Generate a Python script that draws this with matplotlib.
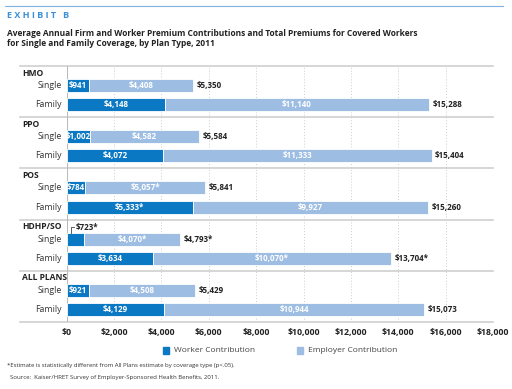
import matplotlib.pyplot as plt
from matplotlib.patches import Rectangle
from matplotlib.ticker import FuncFormatter
from matplotlib.transforms import blended_transform_factory

# data
plans = ['HMO', 'PPO', 'POS', 'HDHP/SO', 'ALL PLANS']
worker_single = [941, 1002, 784, 723, 921]
worker_family = [4148, 4072, 5333, 3634, 4129]
employer_single = [4408, 4582, 5057, 4070, 4508]
employer_family = [11140, 11333, 9927, 10070, 10944]
total_single = [5350, 5584, 5841, 4793, 5429]
total_family = [15288, 15404, 15260, 13704, 15073]
# labels (asterisk = statistically different from All Plans)
lab_ws = ['$941', '$1,002', '$784', '$723*', '$921']
lab_wf = ['$4,148', '$4,072', '$5,333*', '$3,634', '$4,129']
lab_es = ['$4,408', '$4,582', '$5,057*', '$4,070*', '$4,508']
lab_ef = ['$11,140', '$11,333', '$9,927', '$10,070*', '$10,944']
lab_ts = ['$5,350', '$5,584', '$5,841', '$4,793*', '$5,429']
lab_tf = ['$15,288', '$15,404', '$15,260', '$13,704*', '$15,073']

dark = '#0a78c2'
light = '#9dbde3'
plt.rcParams['font.family'] = ['Open Sans', 'DejaVu Sans']

fig = plt.figure(figsize=(5.12, 3.89), dpi=100)
ax = fig.add_axes([66.7 / 512, 1 - 322 / 389, 426.3 / 512, 256 / 389])
ax.set_xlim(0, 18000)
ax.set_ylim(5, 0)

h = 0.255
ys_single = [i + 0.38 for i in range(5)]
ys_family = [i + 0.755 for i in range(5)]
ax.barh(ys_single, worker_single, height=h, color=dark, edgecolor='white', lw=0.6, zorder=3)
ax.barh(ys_single, employer_single, left=worker_single, height=h, color=light,
        edgecolor='white', lw=0.6, zorder=3)
ax.barh(ys_family, worker_family, height=h, color=dark, edgecolor='white', lw=0.6, zorder=3)
ax.barh(ys_family, employer_family, left=worker_family, height=h, color=light,
        edgecolor='white', lw=0.6, zorder=3)

fs = 5.8
for i in range(5):
    ys, yf = ys_single[i], ys_family[i]
    if plans[i] == 'HDHP/SO':
        # small worker share: label above the bar with a leader line
        ly = i + 0.15
        ax.plot([worker_single[i] * 0.25, worker_single[i] * 0.25, worker_single[i] * 0.45],
                [ys - h / 2, ly, ly], color='#444444', lw=0.6, zorder=4)
        ax.text(worker_single[i] * 0.5, ly, lab_ws[i], ha='left', va='center',
                fontsize=fs, fontweight='bold', color='#222222')
    else:
        ax.text(worker_single[i] / 2, ys, lab_ws[i], ha='center', va='center',
                fontsize=fs, fontweight='bold', color='white', zorder=5)
    ax.text(worker_single[i] + employer_single[i] / 2, ys, lab_es[i], ha='center',
            va='center', fontsize=fs, fontweight='bold', color='white', zorder=5)
    ax.text(total_single[i] + 150, ys, lab_ts[i], ha='left', va='center',
            fontsize=fs, fontweight='bold', color='#222222')
    ax.text(worker_family[i] / 2, yf, lab_wf[i], ha='center', va='center',
            fontsize=fs, fontweight='bold', color='white', zorder=5)
    ax.text(worker_family[i] + employer_family[i] / 2, yf, lab_ef[i], ha='center',
            va='center', fontsize=fs, fontweight='bold', color='white', zorder=5)
    ax.text(total_family[i] + 150, yf, lab_tf[i], ha='left', va='center',
            fontsize=fs, fontweight='bold', color='#222222')

# category labels and separators
tr = blended_transform_factory(ax.transAxes, ax.transData)
xl = (20 - 66.7) / 426.3
for i in range(5):
    ax.text((22 - 66.7) / 426.3, i + 0.14, plans[i], transform=tr, ha='left',
            va='center', fontsize=6.1, fontweight='bold', color='#222222')
    ax.text(-0.012, ys_single[i], 'Single', transform=tr, ha='right', va='center',
            fontsize=6.3, color='#333333')
    ax.text(-0.012, ys_family[i], 'Family', transform=tr, ha='right', va='center',
            fontsize=6.3, color='#333333')
for y in range(6):
    ax.plot([xl, 1], [y, y], transform=tr, color='#cfcfcf', lw=1.2, clip_on=False, zorder=2)

for s in ax.spines.values():
    s.set_visible(False)
ax.axvline(0, color='#bbbbbb', lw=0.8, zorder=2)
ax.set_xticks(range(0, 18001, 2000))
ax.xaxis.set_major_formatter(FuncFormatter(lambda v, p: '${:,.0f}'.format(v)))
ax.tick_params(axis='x', length=0, pad=4, labelsize=6.3, labelcolor='#222222')
for t in ax.get_xticklabels():
    t.set_fontweight('bold')
ax.set_yticks([])
ax.grid(axis='x', color='#cccccc', linestyle=(0, (1, 2)), lw=0.7, zorder=0)

# header
fig.add_artist(plt.Line2D([5 / 512, 503 / 512], [1 - 6 / 389, 1 - 6 / 389], color='#7fb2e0', lw=0.8))
fig.text(7 / 512, 1 - 15 / 389, 'E X H I B I T   B', fontsize=6.5, fontweight='bold',
         color='#3a8fd8', va='center')
fig.text(7 / 512, 1 - 33 / 389, 'Average Annual Firm and Worker Premium Contributions and Total Premiums for Covered Workers',
         fontsize=6.05, fontweight='bold', color='#222222', va='center')
fig.text(7 / 512, 1 - 44 / 389, 'for Single and Family Coverage, by Plan Type, 2011',
         fontsize=6.05, fontweight='bold', color='#222222', va='center')

# legend
fig.add_artist(Rectangle((163 / 512, 1 - 354 / 389), 6 / 512, 7 / 389, color=dark))
fig.text(174 / 512, 1 - 350 / 389, 'Worker Contribution', fontsize=6.0, color='#444444', va='center')
fig.add_artist(Rectangle((297 / 512, 1 - 354 / 389), 6 / 512, 7 / 389, color=light))
fig.text(308 / 512, 1 - 350 / 389, 'Employer Contribution', fontsize=6.0, color='#444444', va='center')

# notes
fig.text(7 / 512, 1 - 366 / 389, '*Estimate is statistically different from All Plans estimate by coverage type (p<.05).',
         fontsize=4.35, color='#333333', va='center')
fig.text(10 / 512, 1 - 378 / 389, 'Source:  Kaiser/HRET Survey of Employer-Sponsored Health Benefits, 2011.',
         fontsize=4.35, color='#333333', va='center')

fig.savefig('out.png', dpi=100)
